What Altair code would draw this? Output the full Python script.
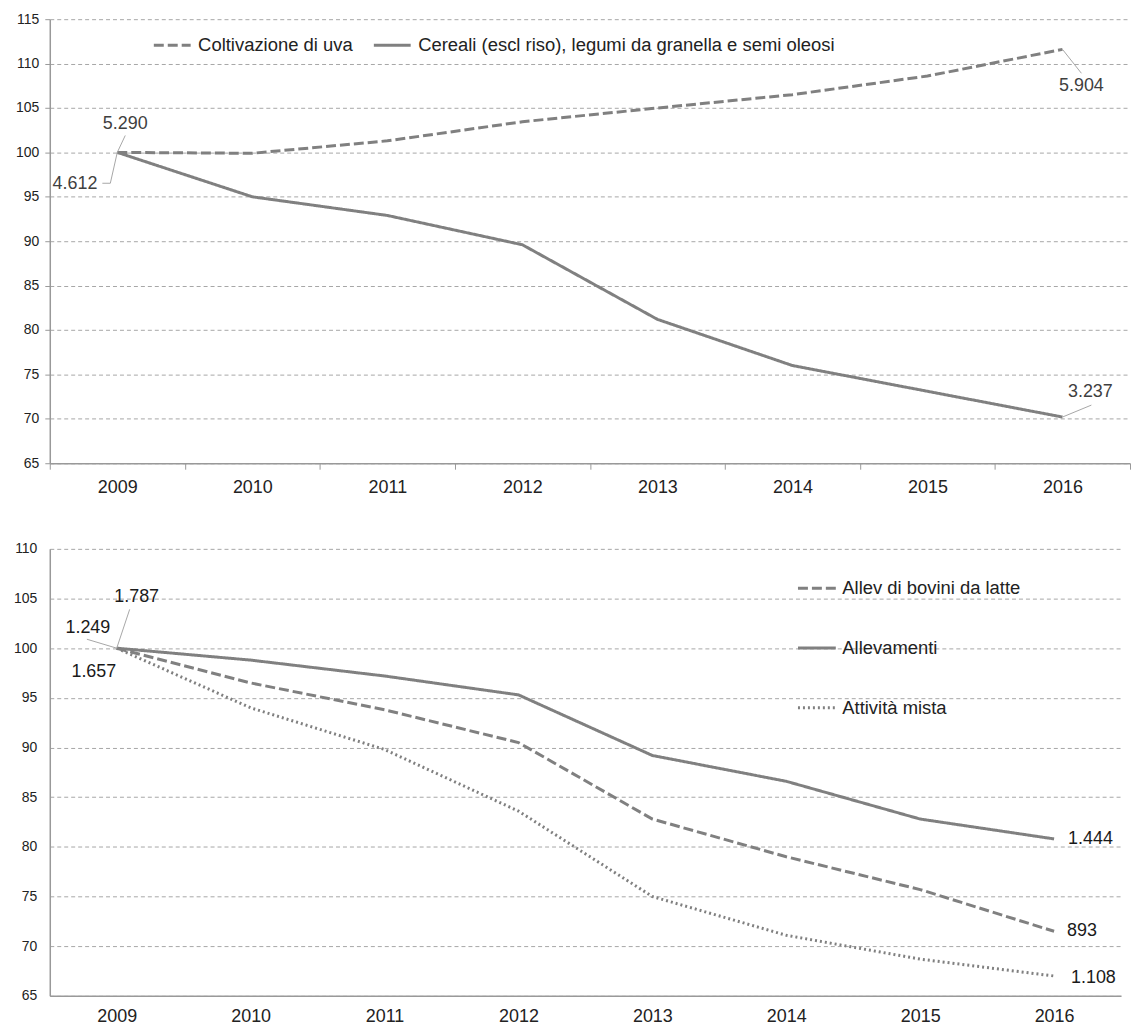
import altair as alt
import pandas as pd

years = [2009, 2010, 2011, 2012, 2013, 2014, 2015, 2016]

# top panel (index 2009 = 100)
top_series = ["Coltivazione di uva", "Cereali (escl riso), legumi da granella e semi oleosi"]
uva = [100.0, 99.9, 101.3, 103.45, 105.0, 106.5, 108.6, 111.6]
cereali = [100.0, 95.0, 92.9, 89.6, 81.2, 76.0, 73.1, 70.2]

# bottom panel (index 2009 = 100)
bottom_series = ["Allev di bovini da latte", "Allevamenti", "Attività mista"]
bovini = [100.0, 96.5, 93.8, 90.5, 82.8, 79.0, 75.7, 71.5]
allevamenti = [100.0, 98.8, 97.2, 95.3, 89.2, 86.6, 82.8, 80.8]
mista = [100.0, 94.0, 89.8, 83.6, 75.0, 71.1, 68.7, 67.0]

# value labels (number of farms)
top_start_labels = ["5.290", "4.612"]
top_end_labels = ["5.904", "3.237"]
bottom_start_labels = ["1.787", "1.249", "1.657"]
bottom_end_labels = ["1.444", "893", "1.108"]

FONT = "Liberation Sans"
GREY = "#808080"

top_df = pd.DataFrame({
    "year": years * 2,
    "value": uva + cereali,
    "series": [top_series[0]] * 8 + [top_series[1]] * 8,
})
bottom_df = pd.DataFrame({
    "year": years * 3,
    "value": bovini + allevamenti + mista,
    "series": [bottom_series[0]] * 8 + [bottom_series[1]] * 8 + [bottom_series[2]] * 8,
})

x_domain = [years[0] - 0.5, years[-1] + 0.5]
band_edges = [y - 0.5 for y in years] + [years[-1] + 0.5]


def xenc(role, top=True):
    if role == "labels":
        axis = alt.Axis(
            title=None, orient="bottom", values=years, grid=False, format="d",
            labelAngle=0, labelFontSize=18, labelColor="#222", labelFont=FONT,
            labelPadding=15 if top else 12, ticks=False, domainColor="#999",
            domainWidth=1.5, labelFlush=False, labelOverlap=False,
        )
    elif role == "ticks":
        axis = alt.Axis(
            title=None, orient="bottom", values=band_edges, grid=False,
            labels=False, ticks=True, tickSize=6, tickColor="#999", tickWidth=1,
            domain=False,
        )
    else:
        axis = None
    return alt.X("year:Q", scale=alt.Scale(domain=x_domain, nice=False, zero=False), axis=axis)


def yenc(top):
    lo, hi = (65, 115) if top else (65, 110)
    axis = alt.Axis(
        title=None, values=list(range(lo, hi + 1, 5)), grid=True,
        gridDash=[4, 3], gridColor="#a6a6a6", gridWidth=1,
        domainColor="#999", domainWidth=1.5,
        ticks=top, tickSize=5, tickColor="#999",
        labelFontSize=14, labelColor="#222", labelFont=FONT,
        labelPadding=6 if top else 13,
    )
    return alt.Y("value:Q", scale=alt.Scale(domain=[lo, hi], nice=False, zero=False), axis=axis)


def text_layer(top, year, value, label, dx, dy, align, color):
    df = pd.DataFrame({"year": [year], "value": [value], "label": [label]})
    return alt.Chart(df).mark_text(
        dx=dx, dy=dy, align=align, baseline="middle", fontSize=18, font=FONT, color=color
    ).encode(x=xenc("none", top), y=yenc(top), text="label:N")


def leader(top, year, value, xo1, yo1, xo2, yo2, role="none"):
    df = pd.DataFrame({"year": [year], "value": [value]})
    return alt.Chart(df).mark_rule(
        color="#a6a6a6", strokeWidth=1,
        xOffset=xo1, yOffset=yo1, x2Offset=xo2, y2Offset=yo2,
    ).encode(x=xenc(role, top), y=yenc(top), x2="year:Q", y2="value:Q")


# ---------- top panel ----------
top_lines = alt.Chart(top_df).mark_line(color=GREY, strokeWidth=3).encode(
    x=xenc("labels", True), y=yenc(True),
    strokeDash=alt.StrokeDash(
        "series:N",
        scale=alt.Scale(domain=top_series, range=[[10, 4], [1, 0]]),
        legend=alt.Legend(
            title=None, orient="none", direction="horizontal",
            legendX=103, legendY=6, symbolType="stroke", symbolSize=1369,
            symbolStrokeWidth=3, symbolStrokeColor=GREY, labelFontSize=18.5,
            labelFont=FONT, labelColor="#222", labelOffset=6, columnPadding=14,
            padding=0, labelLimit=700,
        ),
    ),
)

TOPC = "#3f3f3f"
top_chart = alt.layer(
    top_lines,
    leader(True, years[0], uva[0], 0, 0, 8, -17, role="ticks"),
    leader(True, years[0], cereali[0], 0, 0, -7, 31),
    leader(True, years[0], cereali[0], -7, 31, -15, 31),
    leader(True, years[-1], uva[-1], 0, 0, 19, 24),
    leader(True, years[-1], cereali[-1], 0, 0, 29, -12),
    text_layer(True, years[0], uva[0], top_start_labels[0], 8, -29, "center", TOPC),
    text_layer(True, years[0], cereali[0], top_start_labels[1], -20, 32, "right", TOPC),
    text_layer(True, years[-1], uva[-1], top_end_labels[0], 19, 37, "center", TOPC),
    text_layer(True, years[-1], cereali[-1], top_end_labels[1], 28, -25, "center", TOPC),
).resolve_axis(x="independent").properties(width=1085, height=446)

# ---------- bottom panel ----------
bottom_lines = alt.Chart(bottom_df).mark_line(color=GREY, strokeWidth=3).encode(
    x=xenc("labels", False), y=yenc(False),
    strokeDash=alt.StrokeDash(
        "series:N",
        scale=alt.Scale(domain=bottom_series, range=[[10, 4], [1, 0], [2, 3]]),
        legend=alt.Legend(
            title=None, orient="none", direction="vertical",
            legendX=750, legendY=19, symbolType="stroke", symbolSize=1444,
            symbolStrokeWidth=3, symbolStrokeColor=GREY, labelFontSize=18.5,
            labelFont=FONT, labelColor="#222", labelOffset=5, rowPadding=30,
            padding=0, labelLimit=400,
        ),
    ),
)

BOTC = "#1a1a1a"
bottom_chart = alt.layer(
    bottom_lines,
    leader(False, years[0], bovini[0], 0, 0, 13, -39),
    leader(False, years[0], allevamenti[0], 0, 0, -30, -9),
    text_layer(False, years[0], bovini[0], bottom_start_labels[0], 20, -51, "center", BOTC),
    text_layer(False, years[0], allevamenti[0], bottom_start_labels[1], -29, -20, "center", BOTC),
    text_layer(False, years[0], mista[0], bottom_start_labels[2], -23, 24, "center", BOTC),
    text_layer(False, years[-1], allevamenti[-1], bottom_end_labels[0], 14, 0, "left", BOTC),
    text_layer(False, years[-1], bovini[-1], bottom_end_labels[1], 13, 0, "left", BOTC),
    text_layer(False, years[-1], mista[-1], bottom_end_labels[2], 17, 2, "left", BOTC),
).resolve_axis(x="independent").properties(width=1076, height=449)

chart = alt.vconcat(top_chart, bottom_chart, spacing=46).resolve_scale(
    x="independent", y="independent", strokeDash="independent"
).properties(
    padding={"left": 13, "top": 10, "right": 0, "bottom": 0},
    background="white",
).configure_view(strokeWidth=0)

chart.save("out.html", embed_options={"renderer": "svg", "actions": False})
